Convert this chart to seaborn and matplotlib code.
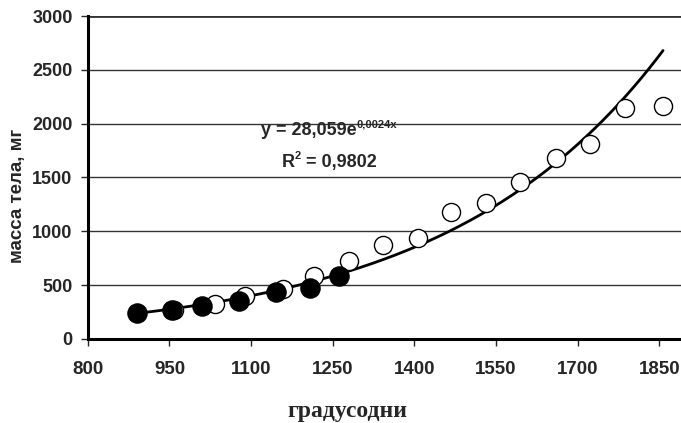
import numpy as np
import pandas as pd
import matplotlib
matplotlib.use("Agg")
import matplotlib.pyplot as plt
import matplotlib.transforms as mtransforms
import seaborn as sns

# data
filled_x = [890, 954, 1010, 1078, 1145, 1209, 1262]
filled_y = [242, 264, 301, 350, 434, 475, 580]
open_x = [958, 1034, 1089, 1159, 1216, 1279, 1343, 1406, 1467, 1531,
          1595, 1660, 1723, 1787, 1857]
open_y = [264, 320, 394, 465, 580, 720, 875, 940, 1176, 1262,
          1455, 1681, 1808, 2147, 2165]
x_ticks = [800, 950, 1100, 1250, 1400, 1550, 1700, 1850]
y_ticks = [0, 500, 1000, 1500, 2000, 2500, 3000]
eq_parts = [("y = 28,059e", False), ("0,0024x", True)]
r2_parts = [("R", False), ("2", True), (" = 0,9802", False)]
x_label = "градусодни"
y_label = "масса тела, мг"

sns.set_style("white")
plt.rcParams["font.family"] = ["Liberation Sans", "DejaVu Sans"]


def place_sup_text(ax, x, y, parts, size):
    """Draw text with superscripts, centred on (x, y) baseline."""
    fig = ax.figure
    r = fig.canvas.get_renderer()
    items = []
    for s, sup in parts:
        fs = size * 0.62 if sup else size
        t = ax.text(x, y, s, fontsize=fs, fontweight="bold",
                    ha="left", va="baseline")
        w = t.get_window_extent(r).width
        items.append((t, w, sup))
    total = sum(w for _, w, _ in items)
    dx = -total / 2
    for t, w, sup in items:
        dy = size * 0.42 if sup else 0
        off = mtransforms.ScaledTranslation(dx / fig.dpi, dy / 72,
                                            fig.dpi_scale_trans)
        t.set_transform(ax.transData + off)
        dx += w


df_f = pd.DataFrame({"x": filled_x, "y": filled_y})
df_o = pd.DataFrame({"x": open_x, "y": open_y})

# exponential trendline fitted on all points (like Excel)
all_x = np.array(filled_x + open_x, dtype=float)
all_y = np.array(filled_y + open_y, dtype=float)
b, ln_a = np.polyfit(all_x, np.log(all_y), 1)
cx = np.linspace(all_x.min(), all_x.max(), 200)
df_c = pd.DataFrame({"x": cx, "y": np.exp(ln_a) * np.exp(b * cx)})

fig = plt.figure(figsize=(6.81, 4.23), dpi=100)
ax = fig.add_axes([0.129, 0.199, 0.871, 0.763])

for v in y_ticks[1:]:
    ax.axhline(v, color="#333333", lw=1.0 if v < 3000 else 2.0, zorder=0)

sns.lineplot(data=df_c, x="x", y="y", ax=ax, color="black", lw=2, zorder=2)
sns.scatterplot(data=df_o, x="x", y="y", ax=ax, s=170, facecolor="white",
                edgecolor="black", linewidth=1.0, zorder=3)
sns.scatterplot(data=df_f, x="x", y="y", ax=ax, s=190, color="black",
                edgecolor="black", linewidth=1.0, zorder=4)

ax.set_xlim(800, 1890)
ax.set_ylim(0, 3000)
ax.set_xticks(x_ticks)
ax.set_yticks(y_ticks)
ax.tick_params(axis="x", direction="out", length=5, width=1, pad=11,
               labelsize=13.5, bottom=True)
ax.tick_params(axis="y", direction="out", length=5, width=1, pad=6,
               labelsize=13, left=True)
for lab in ax.get_xticklabels() + ax.get_yticklabels():
    lab.set_fontweight("bold")

for side in ["left", "bottom"]:
    ax.spines[side].set_linewidth(2.2)
    ax.spines[side].set_color("black")
ax.spines["right"].set_visible(False)
ax.spines["top"].set_visible(False)

ax.set_xlabel("")
ax.set_ylabel("")
fig.text(0.51, 0.028, x_label, ha="center", va="center", fontsize=17,
         fontweight="bold", family=["Liberation Serif", "DejaVu Serif"])
fig.text(0.026, 0.537, y_label, ha="center", va="center", rotation=90,
         fontsize=13.5, fontweight="bold")

place_sup_text(ax, 1244, 1890, eq_parts, 13)
place_sup_text(ax, 1244, 1601, r2_parts, 13)

fig.savefig("out.png", dpi=100)
